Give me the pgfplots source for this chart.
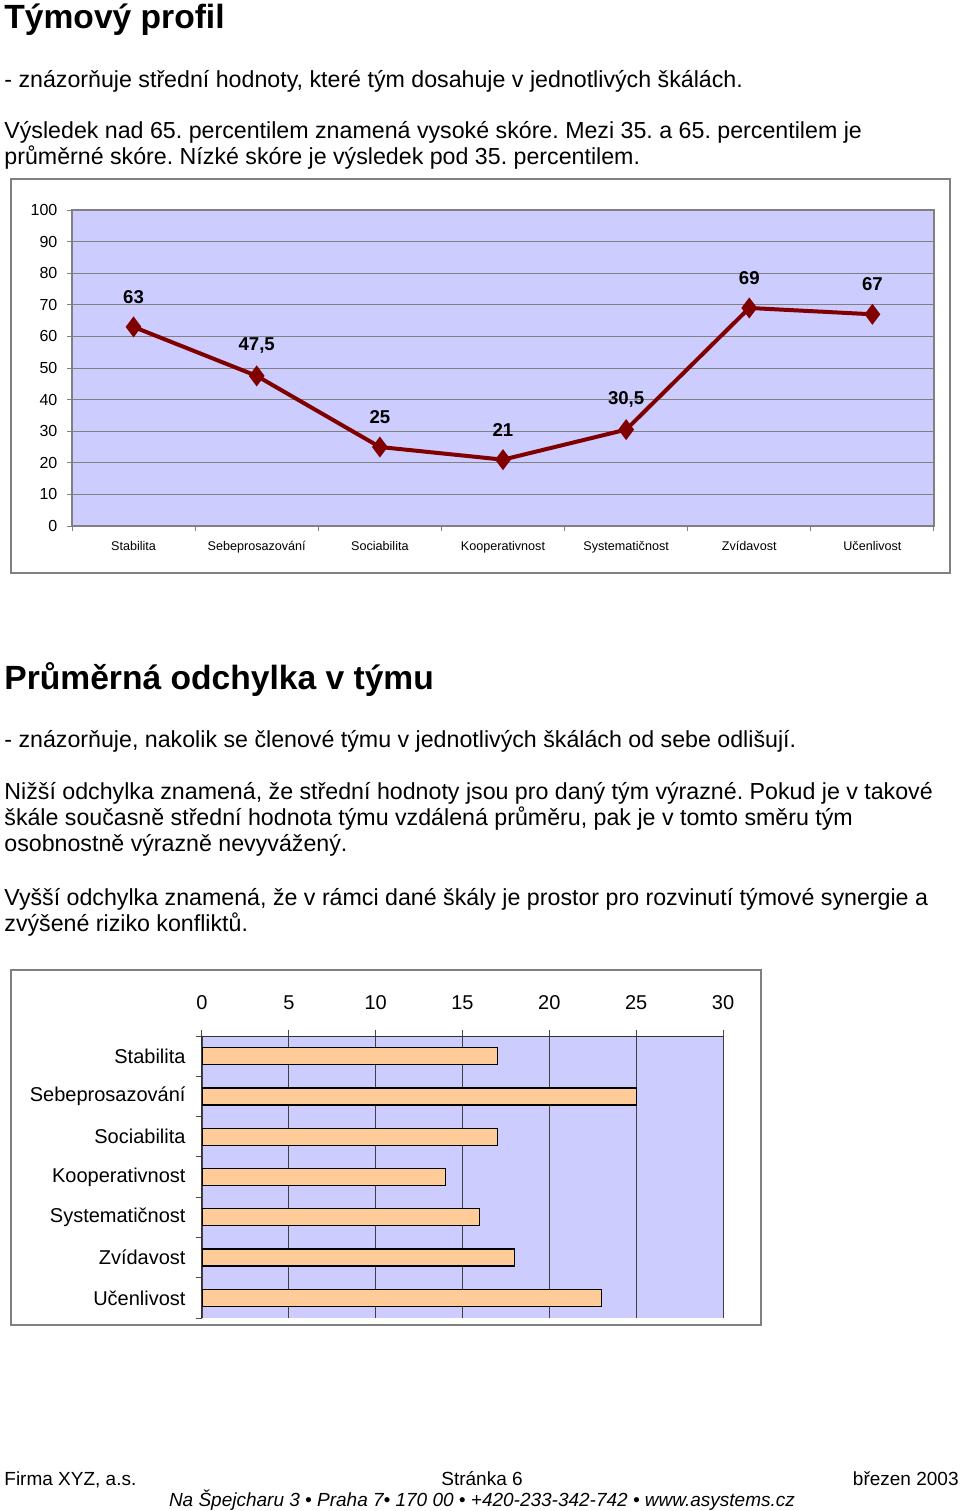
\documentclass[border=0pt]{standalone}
\usepackage{fontspec}
\setmainfont{Liberation Sans}
\usepackage{pgfplots}
\pgfplotsset{compat=1.18}
\definecolor{lav}{RGB}{204,204,255}
\definecolor{maroon}{RGB}{128,0,0}
\definecolor{peach}{RGB}{255,204,153}
\definecolor{framegray}{RGB}{128,128,128}

\newcommand\body{\fontsize{11.6}{13}\selectfont}
\newcommand\head{\fontsize{16.8}{20}\selectfont\bfseries}
\newcommand\foot{\fontsize{9.5}{11}\selectfont}
\frenchspacing

\begin{document}
\begin{tikzpicture}
% page layout in pixels of the reference (1px = 0.5pt, y downward)
\begin{scope}[x=0.5pt,y=-0.5pt]
\path[use as bounding box] (0,0) rectangle (960,1511);

\node[anchor=base west,inner sep=0,font=\head] at (4,28) {Týmový profil};
\node[anchor=base west,inner sep=0,font=\body] at (4,87) {- znázorňuje střední hodnoty, které tým dosahuje v jednotlivých škálách.};
\node[anchor=base west,inner sep=0,font=\body] at (4,138) {Výsledek nad 65. percentilem znamená vysoké skóre. Mezi 35. a 65. percentilem je};
\node[anchor=base west,inner sep=0,font=\body] at (4,164) {průměrné skóre. Nízké skóre je výsledek pod 35. percentilem.};

\draw[framegray,line width=0.6pt] (11,179) rectangle (950,573);

\node[anchor=base west,inner sep=0,font=\head] at (4,689) {Průměrná odchylka v týmu};
\node[anchor=base west,inner sep=0,font=\body] at (4,747) {- znázorňuje, nakolik se členové týmu v jednotlivých škálách od sebe odlišují.};
\node[anchor=base west,inner sep=0,font=\body] at (4,799) {Nižší odchylka znamená, že střední hodnoty jsou pro daný tým výrazné. Pokud je v takové};
\node[anchor=base west,inner sep=0,font=\body] at (4,825) {škále současně střední hodnota týmu vzdálená průměru, pak je v tomto směru tým};
\node[anchor=base west,inner sep=0,font=\body] at (4,851) {osobnostně výrazně nevyvážený.};
\node[anchor=base west,inner sep=0,font=\body] at (4,905) {Vyšší odchylka znamená, že v rámci dané škály je prostor pro rozvinutí týmové synergie a};
\node[anchor=base west,inner sep=0,font=\body] at (4,931) {zvýšené riziko konfliktů.};

\draw[framegray,line width=0.6pt] (11,970) rectangle (761,1325);

\node[anchor=base west,inner sep=0,font=\foot] at (4,1485) {Firma XYZ, a.s.};
\node[anchor=base,inner sep=0,font=\foot] at (482,1485) {Stránka 6};
\node[anchor=base east,inner sep=0,font=\foot] at (959,1485) {březen 2003};
\node[anchor=base,inner sep=0,font=\foot\itshape] at (482,1506)
  {Na Špejcharu 3 • Praha 7• 170 00 • +420-233-342-742 • \underline{www.asystems.cz}};
\end{scope}

% --- chart 1: team profile (plot area 72..934 x 210..526 px)
\begin{axis}[
    at={(36pt,-263pt)}, anchor=south west,
    scale only axis, width=431pt, height=158pt,
    xmin=-0.5, xmax=6.5, ymin=0, ymax=100,
    axis background/.style={fill=lav},
    axis line style={framegray, line width=0.6pt},
    ytick={0,10,...,100},
    ymajorgrids, grid style={framegray, line width=0.5pt},
    xtick={0,...,6},
    xticklabels={Stabilita,Sebeprosazování,Sociabilita,Kooperativnost,Systematičnost,Zvídavost,Učenlivost},
    major x tick style={draw=none},
    minor xtick={-0.5,0.5,...,6.5},
    tick align=outside, tick pos=left,
    tick style={framegray, line width=0.5pt},
    major tick length=2.5pt, minor tick length=2.5pt,
    y tick label style={font=\fontsize{8}{9}\selectfont, xshift=-1.3pt},
    x tick label style={font=\fontsize{6.3}{7}\selectfont, yshift=-1.5pt},
    /pgf/number format/assume math mode=true,
    /pgf/number format/use comma,
    nodes near coords,
    every node near coord/.style={font=\fontsize{9.3}{10}\selectfont\bfseries,
      anchor=center, yshift=15pt, text=black},
  ]
  \addplot[maroon, line width=2pt, mark=diamond*, mark size=3.6pt,
           mark options={fill=maroon}]
    coordinates {(0,63)(1,47.5)(2,25)(3,21)(4,30.5)(5,69)(6,67)};
\end{axis}

% --- chart 2: spread within team (plot area 202..723 x 1036..1318 px)
\begin{axis}[
    at={(101pt,-659pt)}, anchor=south west,
    scale only axis, width=260.5pt, height=141pt,
    xbar, bar width=8.5pt,
    xmin=0, xmax=30, ymin=-0.5, ymax=6.5,
    axis background/.style={fill=lav},
    axis x line*=top, axis y line*=left,
    axis line style={black!80, line width=0.5pt},
    xtick={0,5,...,30},
    xmajorgrids, grid style={black!75, line width=0.4pt},
    ytick={0,...,6},
    yticklabels={Učenlivost,Zvídavost,Systematičnost,Kooperativnost,Sociabilita,Sebeprosazování,Stabilita},
    major y tick style={draw=none},
    minor ytick={-0.5,0.5,...,6.5},
    tick align=outside,
    tick style={black!70, line width=0.5pt},
    major tick length=3pt, minor tick length=3pt,
    x tick label style={font=\fontsize{10}{11}\selectfont, yshift=6.5pt},
    y tick label style={font=\fontsize{10}{11}\selectfont, xshift=-1.7pt},
    /pgf/number format/assume math mode=true,
  ]
  \addplot[fill=peach, draw=black, line width=0.6pt]
    coordinates {(23,0)(18,1)(16,2)(14,3)(17,4)(25,5)(17,6)};
\end{axis}
\end{tikzpicture}
\end{document}
